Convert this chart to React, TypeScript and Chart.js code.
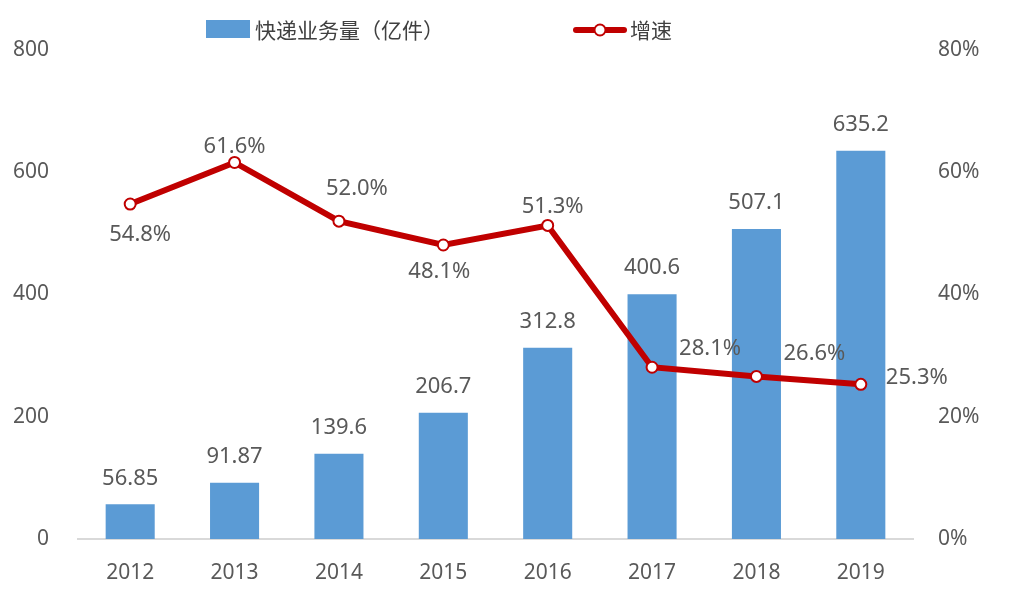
import React, { useEffect, useRef } from "react";
import { Chart, registerables } from "chart.js";

Chart.register(...registerables);

const years = ["2012", "2013", "2014", "2015", "2016", "2017", "2018", "2019"];
const volume = [56.85, 91.87, 139.6, 206.7, 312.8, 400.6, 507.1, 635.2];
const growth = [54.8, 61.6, 52.0, 48.1, 51.3, 28.1, 26.6, 25.3];
const leftTicks = [0, 200, 400, 600, 800];
const rightTicks = [0, 20, 40, 60, 80];
const volumeName = "快递业务量（亿件）";
const growthName = "增速";

// label offsets (style): [dx, dy] from the point centre
const growthLabelOffsets: [number, number][] = [
  [10, 31], [0, -16], [18, -32], [-4, 27], [5, -19], [58, -19], [58, -23], [56, -7],
];

const BLUE = "#5B9BD5";
const RED = "#C00000";
const TEXT = "#595959";
const FONT = "'Noto Sans', 'Noto Sans CJK SC', sans-serif";
const CJK = "'Noto Sans CJK SC', 'Noto Sans', sans-serif";

export default function App() {
  const ref = useRef<HTMLCanvasElement>(null);
  useEffect(() => {
    document.body.style.margin = "0";
    const canvas = ref.current!;
    const labelsPlugin = {
      id: "labelsPlugin",
      afterDatasetsDraw(chart: any) {
        const ctx = chart.ctx;
        ctx.save();
        ctx.font = `22px ${FONT}`;
        ctx.fillStyle = TEXT;
        ctx.textAlign = "center";
        ctx.textBaseline = "middle";
        const barMeta = chart.getDatasetMeta(1);
        barMeta.data.forEach((el: any, i: number) => {
          ctx.fillText(String(volume[i]), el.x, el.y - 26);
        });
        const lineMeta = chart.getDatasetMeta(0);
        lineMeta.data.forEach((el: any, i: number) => {
          const [dx, dy] = growthLabelOffsets[i];
          ctx.fillText(growth[i].toFixed(1) + "%", el.x + dx, el.y + dy);
        });
        ctx.restore();
      },
      afterDraw(chart: any) {
        const ctx = chart.ctx;
        ctx.save();
        // legend
        ctx.fillStyle = BLUE;
        ctx.fillRect(206, 20, 44, 18);
        ctx.font = `21px ${CJK}`;
        ctx.fillStyle = "#404040";
        ctx.textAlign = "left";
        ctx.textBaseline = "middle";
        ctx.fillText(volumeName, 255, 30);
        ctx.strokeStyle = RED;
        ctx.lineWidth = 6;
        ctx.lineCap = "round";
        ctx.beginPath();
        ctx.moveTo(576, 30);
        ctx.lineTo(624, 30);
        ctx.stroke();
        ctx.beginPath();
        ctx.arc(600, 30, 5.5, 0, Math.PI * 2);
        ctx.fillStyle = "#fff";
        ctx.fill();
        ctx.lineWidth = 2;
        ctx.stroke();
        ctx.fillStyle = "#404040";
        ctx.fillText(growthName, 630, 30);
        ctx.restore();
      },
    };
    const chart = new Chart(canvas, {
      data: {
        labels: years,
        datasets: [
          {
            type: "line",
            label: growthName,
            data: growth,
            yAxisID: "y1",
            borderColor: RED,
            borderWidth: 6,
            pointRadius: 5.5,
            pointBackgroundColor: "#fff",
            pointBorderColor: RED,
            pointBorderWidth: 2,
            order: 0,
          },
          {
            type: "bar",
            label: volumeName,
            data: volume,
            yAxisID: "y",
            backgroundColor: BLUE,
            barPercentage: 0.47,
            categoryPercentage: 1,
            order: 1,
          },
        ],
      },
      options: {
        responsive: false,
        animation: false,
        layout: { padding: { top: 50 } },
        font: { family: FONT },
        plugins: { legend: { display: false }, tooltip: { enabled: false } },
        scales: {
          x: {
            grid: { display: false, drawTicks: false, tickLength: 0 },
            border: { display: true, color: "#D9D9D9", width: 2 },
            ticks: { color: TEXT, font: { size: 21, family: FONT }, padding: 21 },
            afterFit: (s: any) => { s.height = 63; },
          },
          y: {
            position: "left",
            min: leftTicks[0],
            max: leftTicks[leftTicks.length - 1],
            grid: { display: false, drawTicks: false, tickLength: 0 },
            border: { display: false },
            afterBuildTicks: (s: any) => { s.ticks = leftTicks.map((v) => ({ value: v })); },
            ticks: { color: TEXT, font: { size: 21, family: FONT }, padding: 29 },
            afterFit: (s: any) => { s.width = 78; },
          },
          y1: {
            position: "right",
            min: rightTicks[0],
            max: rightTicks[rightTicks.length - 1],
            grid: { display: false, drawTicks: false, tickLength: 0 },
            border: { display: false },
            afterBuildTicks: (s: any) => { s.ticks = rightTicks.map((v) => ({ value: v })); },
            ticks: {
              color: TEXT,
              font: { size: 21, family: FONT },
              padding: 25,
              callback: (v: any) => v + "%",
            },
            afterFit: (s: any) => { s.width = 97; },
          },
        },
      },
      plugins: [labelsPlugin],
    } as any);
    return () => chart.destroy();
  }, []);
  return (
    <div style={{ width: 1010, height: 602, background: "#fff" }}>
      <canvas ref={ref} width={1010} height={602} />
    </div>
  );
}
